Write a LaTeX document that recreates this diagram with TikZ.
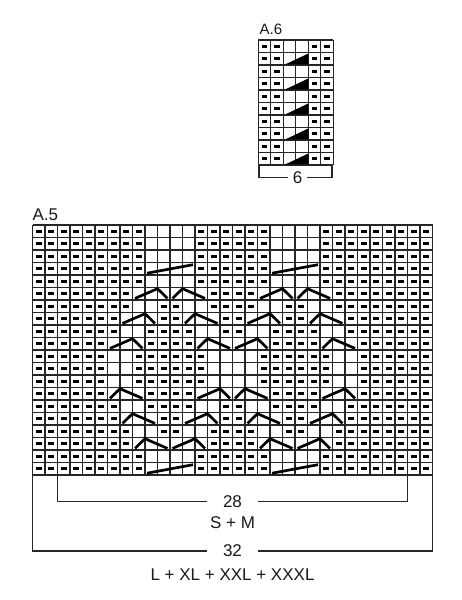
\documentclass[tikz,border=0pt]{standalone}
\usepackage{fontspec}
\setmainfont{Liberation Sans}
\begin{document}
\begin{tikzpicture}[x=1pt,y=-1pt,
  gridln/.style={line width=1.1pt, draw=black!85},
  purl/.style={fill=black},
  cable/.style={line width=2.7pt, draw=black},
  brk/.style={line width=1.9pt, draw=black!85},
  lbl/.style={font=\fontsize{17}{20}\selectfont, inner sep=0pt, text=black!90},
  smalllbl/.style={font=\fontsize{15}{17}\selectfont, inner sep=0pt, text=black!90}]
\useasboundingbox (0,0) rectangle (462,600);

% ---------- A.6 ----------
\def\ax{258.3}\def\ay{40}
\foreach \i in {0,...,6} \draw[gridln] ({\ax+12.5*\i},\ay) -- ({\ax+12.5*\i},{\ay+125});
\foreach \j in {0,...,10} \draw[gridln] (\ax,{\ay+12.5*\j}) -- ({\ax+75},{\ay+12.5*\j});
\foreach \r in {1,...,10}
  \foreach \c in {1,2,5,6}
    \fill[purl] ({\ax+12.5*(\c-0.5)-2.8},{\ay+12.5*(\r-0.5)-1.3}) rectangle ++(5.6,2.6);
\foreach \r in {2,4,6,8,10}
  \fill ({\ax+12.5*2+2},{\ay+12.5*\r-0.6}) -- ({\ax+12.5*4},{\ay+12.5*(\r-1)+1}) -- ({\ax+12.5*4},{\ay+12.5*\r-0.6}) -- cycle;
\node[smalllbl, anchor=base west] (a6) at (259.5,34.5) {A.6};
\node[lbl, minimum width=18pt] (n6) at (297.5,177.5) {6};
\draw[brk] (259.3,165) |- (n6.west);
\draw[brk] (332.3,165) |- (n6.east);

% ---------- A.5 ----------
\def\bx{32.5}\def\by{225}
\foreach \i in {0,...,32} \draw[gridln] ({\bx+12.5*\i},\by) -- ({\bx+12.5*\i},{\by+250});
\foreach \j in {0,...,20} \draw[gridln] (\bx,{\by+12.5*\j}) -- ({\bx+400},{\by+12.5*\j});

\foreach \rows/\rng in {{1,2,3,4,5,19,20}/{1/9,14/19,24/32},
                        {6,18}/{1/8,15/18,25/32},
                        {7,17}/{1/8,11/12,15/18,21/22,25/32},
                        {8,16}/{1/7,11/12,16/17,21/22,26/32},
                        {9,15}/{1/7,10/13,16/17,20/23,26/32},
                        {10,14}/{1/6,10/13,20/23,27/32},
                        {11,12,13}/{1/6,9/14,19/24,27/32}}
  \foreach \r in \rows
    \foreach \a/\b in \rng
      \foreach \c in {\a,...,\b}
        \fill[purl] ({\bx+12.5*(\c-0.5)-2.8},{\by+12.5*(\r-0.5)-1.3}) rectangle ++(5.6,2.6);

% chevron cables: row / first col / peak boundary / last col
\foreach \r/\a/\p/\b in {6/9/10/11,6/12/12/14,6/19/20/21,6/22/22/24,
                         8/8/9/10,8/13/13/15,8/18/19/20,8/23/23/25,
                         10/7/8/9,10/14/14/16,10/17/18/19,10/24/24/26,
                         14/7/7/9,14/14/15/16,14/17/17/19,14/24/25/26,
                         16/8/8/10,16/13/14/15,16/18/18/20,16/23/24/25,
                         18/9/9/11,18/12/13/14,18/19/19/21,18/22/23/24}
  \draw[cable] ({\bx+12.5*(\a-1)+2.5},{\by+12.5*\r-1.6})
            -- ({\bx+12.5*\p},{\by+12.5*(\r-1)+1.2})
            -- ({\bx+12.5*\b-2.5},{\by+12.5*\r-1.6});
% long cables
\foreach \r/\a in {4/10,4/20,20/10,20/20}
  \draw[cable] ({\bx+12.5*(\a-1)+2},{\by+12.5*\r-1.8}) -- ({\bx+12.5*(\a+3)-2},{\by+12.5*(\r-1)+2.2});

\node[lbl, anchor=base west] (a5) at (32.3,220) {A.5};

\node[lbl, minimum width=50pt] (n28) at (232.5,501.5) {28};
\node[lbl, anchor=base] (sm) at (232.5,528.3) {S + M};
\draw[brk] (57.5,475) |- (n28.west);
\draw[brk] (407.5,475) |- (n28.east);

\node[lbl, minimum width=50pt] (n32) at (232.5,551) {32};
\node[lbl, anchor=base] (lx) at (232.5,580) {L + XL + XXL + XXXL};
\draw[brk] (32.5,475) |- (n32.west);
\draw[brk] (432.5,475) |- (n32.east);
\end{tikzpicture}
\end{document}
